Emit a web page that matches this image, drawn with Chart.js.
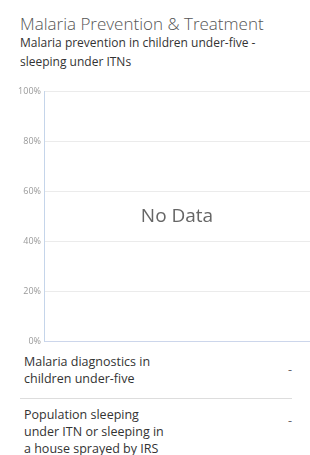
<!DOCTYPE html>
<html>
<head>
<meta charset="utf-8">
<script src="https://cdn.jsdelivr.net/npm/chart.js@4/dist/chart.umd.min.js"></script>
<style>
    body { margin:0; width:310px; height:455px; overflow:hidden; background:#fff; font-family:"Open Sans", sans-serif; position:relative; }
    #title { position:absolute; left:20px; top:12px; font-size:17px; font-weight:300; color:#555; white-space:nowrap; line-height:24px; }
    #subtitle { position:absolute; left:20px; top:33px; font-size:12px; color:#333; line-height:19px; width:250px; }
    #chartBox { position:absolute; left:0; top:80px; width:310px; height:270px; }
    .row { position:absolute; left:24px; width:268px; font-size:12.5px; color:#333; line-height:17px; }
    .row .val { position:absolute; right:0px; color:#666; }
    #sep { position:absolute; left:20px; top:398px; width:272px; height:1px; background:#ddd; }
</style>
</head>
<body>
<div id="title">Malaria Prevention &amp; Treatment</div>
<div id="subtitle">Malaria prevention in children under-five - sleeping under ITNs</div>
<div id="chartBox"><canvas id="itnChart"></canvas></div>
<div class="row" id="row1" style="top:353px;"><span>Malaria diagnostics in<br>children under-five</span><span class="val" style="top:8px;">-</span></div>
<div id="sep"></div>
<div class="row" id="row2" style="top:406px;"><span>Population sleeping<br>under ITN or sleeping in<br>a house sprayed by IRS</span><span class="val" style="top:6px;">-</span></div>

<script>
// no survey data available for this country
let categories = [];
let itnValues = [];
let yTicks = [0, 20, 40, 60, 80, 100];
let noDataText = "No Data";

const noDataPlugin = {
    id: 'noData',
    afterDraw: function(chart) {
        let hasData = chart.data.datasets.some(d => d.data.some(v => v != null));
        if (hasData) return;
        let area = chart.chartArea;
        let ctx = chart.ctx;
        ctx.save();
        ctx.font = '19px "Open Sans"';
        ctx.fillStyle = '#666';
        ctx.textAlign = 'center';
        ctx.textBaseline = 'middle';
        ctx.fillText(noDataText, (area.left + area.right) / 2, (area.top + area.bottom) / 2);
        ctx.restore();
    }
};

let ctx = document.getElementById("itnChart").getContext('2d');

new Chart(ctx, {
    type: 'bar',
    data: {
        labels: categories,
        datasets: [{
            label: 'Sleeping under ITNs',
            data: itnValues,
            backgroundColor: '#7cb5ec'
        }]
    },
    options: {
        responsive: true,
        maintainAspectRatio: false,
        animation: false,
        layout: { padding: { top: 11, right: 0, left: 0, bottom: 0 } },
        plugins: {
            legend: { display: false },
            tooltip: { enabled: false }
        },
        scales: {
            x: {
                grid: { display: false, drawTicks: false },
                border: { color: '#ccd6eb', width: 1 },
                ticks: { display: false }
            },
            y: {
                min: 0,
                max: 100,
                afterBuildTicks: function(axis) {
                    axis.ticks = yTicks.map(v => ({ value: v }));
                },
                afterFit: function(axis) {
                    axis.width = 44;
                },
                grid: { color: '#ebebeb', drawTicks: false, lineWidth: 1 },
                border: { color: '#c5d5ea', width: 1 },
                ticks: {
                    color: '#999',
                    padding: 3,
                    font: { family: 'Open Sans', size: 9 },
                    callback: function(v) { return v + '%'; }
                }
            }
        }
    },
    plugins: [noDataPlugin]
});
</script>
</body>
</html>
